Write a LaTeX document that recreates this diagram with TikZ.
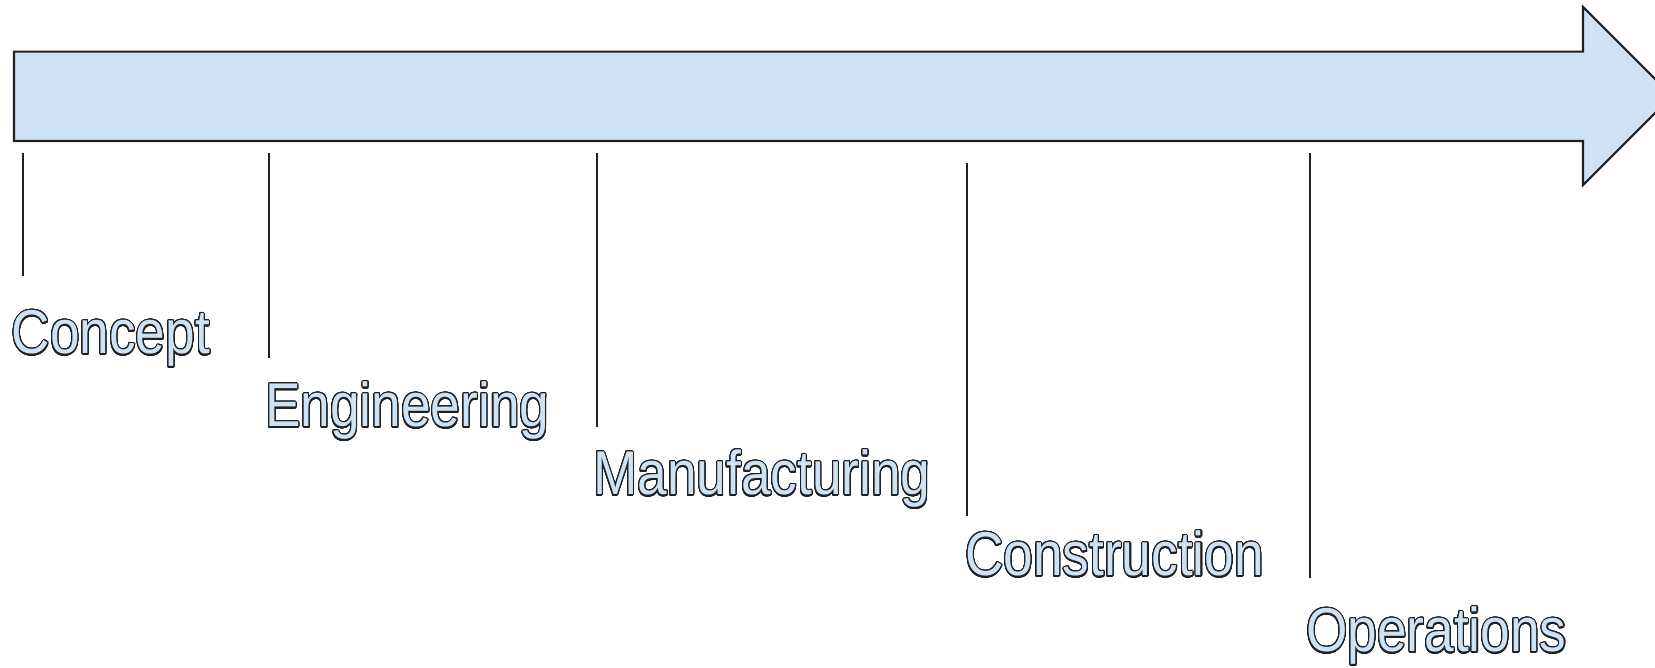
\documentclass[tikz,border=0pt]{standalone}
\usepackage{fontspec}
\setmainfont{Liberation Sans}
\usepackage{contour}
\contourlength{0.35pt}
\contournumber{32}
\usetikzlibrary{positioning}

\definecolor{barblue}{RGB}{207,226,243}
\definecolor{inkgray}{RGB}{30,32,36}

% outlined, slightly narrowed phase names
\newcommand{\phasename}[1]{\scalebox{0.86}[1]{\contour{inkgray}{#1}}}

\begin{document}
\begin{tikzpicture}[
    x=0.01cm, y=-0.01cm,
    timebar/.style={draw=inkgray, fill=barblue, line width=0.6pt, line join=miter},
    tick/.style={draw=inkgray, line width=0.55pt},
    phase/.style={anchor=base west, inner sep=0pt, text=barblue, font=\fontsize{17.6pt}{21pt}\selectfont}
]
\useasboundingbox (0,0) rectangle (1655,668);
\clip (0,0) rectangle (1655,668);

% the time line
\draw[timebar] (14,51.7) -- (1583,51.7) -- (1583,7) -- (1672,96)
    -- (1583,185) -- (1583,141) -- (14,141) -- cycle;

% tick ends
\coordinate (conTop) at (22.7,153);
\coordinate (conEnd) at (22.7,276);
\coordinate (engTop) at (269,153);
\coordinate (engEnd) at (269,358);
\coordinate (manTop) at (597,153);
\coordinate (manEnd) at (597,427);
\coordinate (cstTop) at (966.7,162.7);
\coordinate (cstEnd) at (966.7,516);
\coordinate (opsTop) at (1310,153);
\coordinate (opsEnd) at (1310,578);

% phases
\node[phase] (concept) at (11,354) {\phasename{Concept}};
\node[phase] (engineering) at (264.5,427) {\phasename{Engineering}};
\node[phase] (manufacturing) at (592.5,495) {\phasename{Manufacturing}};
\node[phase] (construction) at (964.5,576) {\phasename{Construction}};
\node[phase] (operations) at (1305.5,652) {\phasename{Operations}};

\draw[tick] (conTop) -- (conEnd);
\draw[tick] (engTop) -- (engEnd);
\draw[tick] (manTop) -- (manEnd);
\draw[tick] (cstTop) -- (cstEnd);
\draw[tick] (opsTop) -- (opsEnd);
\end{tikzpicture}
\end{document}
